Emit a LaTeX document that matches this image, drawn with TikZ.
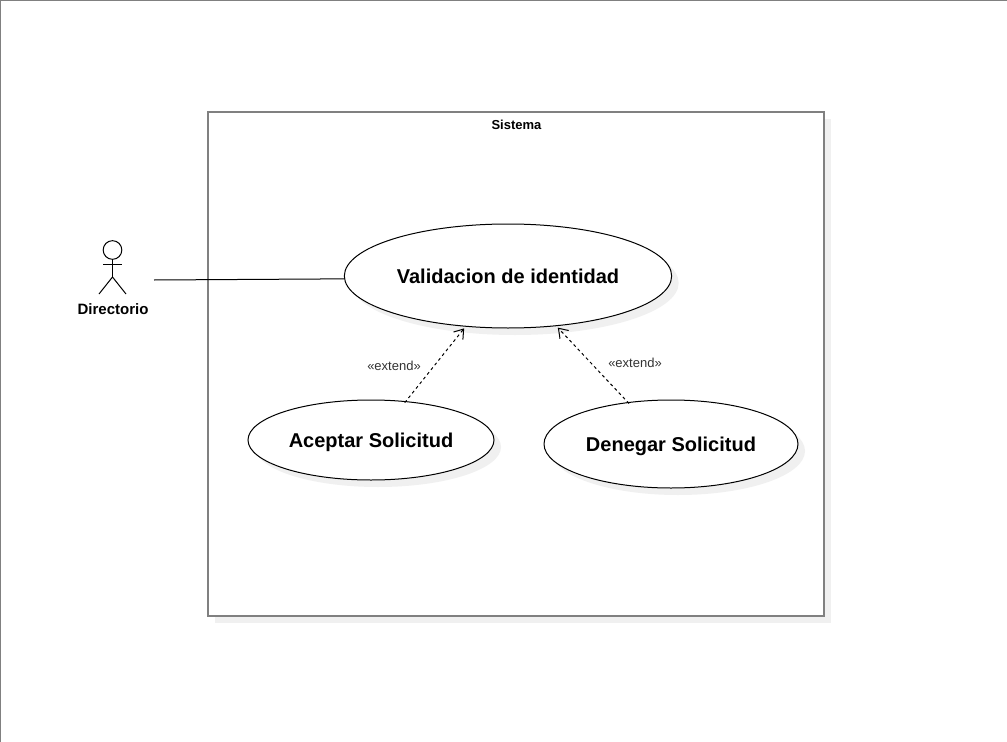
\documentclass[tikz,border=0pt]{standalone}
\usepackage{fontspec}
\setmainfont{Liberation Sans}
\usetikzlibrary{arrows.meta,shapes.geometric,shadows}
\definecolor{framegray}{HTML}{808080}
\definecolor{shadowgray}{HTML}{F0F0F0}
\definecolor{labelgray}{HTML}{333333}
\tikzset{
  softshadow/.style={drop shadow={shadow xshift=5.25pt,shadow yshift=-5.25pt,fill=shadowgray,opacity=1}},
  usecase/.style={ellipse,draw,fill=white,softshadow,inner sep=0pt,outer sep=0pt,line width=0.75pt,text depth=0pt,font=\fontsize{15}{18}\selectfont\bfseries},
  extendlabel/.style={text=labelgray,font=\fontsize{9.75}{12}\selectfont},
  extendline/.style={dash pattern=on 2.25pt off 2.25pt,line width=0.75pt,shorten >=2pt,shorten <=-1pt,-{Straight Barb[length=6.5pt,width=9pt]}},
  smallbold/.style={font=\fontsize{9.75}{12}\selectfont\bfseries}
}
\begin{document}
\begin{tikzpicture}[x=0.75pt,y=-0.75pt]
\useasboundingbox (0,0) rectangle (1007,742);
\draw[framegray,line width=1.5pt] (0,742)--(0,0)--(1007,0);
\node[rectangle,draw=framegray,fill=white,softshadow,line width=1.5pt,inner sep=0pt,minimum width=462pt,minimum height=378pt] (sistema) at (516,364) {};
\node[smallbold] (sistemalabel) at (516.5,124.5) {Sistema};
\node[usecase,minimum width=245.5pt,minimum height=78pt] (validacion) at (508,276) {Validacion de identidad};
\node[usecase,minimum width=184.5pt,minimum height=60pt] (aceptar) at (371,440) {Aceptar Solicitud};
\node[usecase,minimum width=190.5pt,minimum height=66pt] (denegar) at (671,444) {Denegar Solicitud};
% actor
\node[circle,draw,fill=white,line width=0.75pt,inner sep=0pt,outer sep=0pt,minimum size=14pt] (head) at (112.5,250) {};
\coordinate (hip) at (112.5,277);
\coordinate (armL) at (103,264.5);
\coordinate (armR) at (122,264.5);
\coordinate (legL) at (99,294);
\coordinate (legR) at (126,294);
\draw[line width=0.75pt] (head.south)--(hip);
\draw[line width=0.75pt] (armL)--(armR);
\draw[line width=0.75pt] (legL)--(hip)--(legR);
\node[font=\fontsize{11.25}{13}\selectfont\bfseries] (directorio) at (113,309) {Directorio};
\coordinate (actorhand) at (154,280);
\draw[line width=0.75pt] (actorhand)--(validacion.181);
\draw[extendline] (aceptar.48.5)--(validacion.230);
\draw[extendline] (denegar.136.1)--(validacion.314.3);
\node[extendlabel] (extendA) at (394,366) {«extend»};
\node[extendlabel] (extendB) at (635,363) {«extend»};
\end{tikzpicture}
\end{document}
